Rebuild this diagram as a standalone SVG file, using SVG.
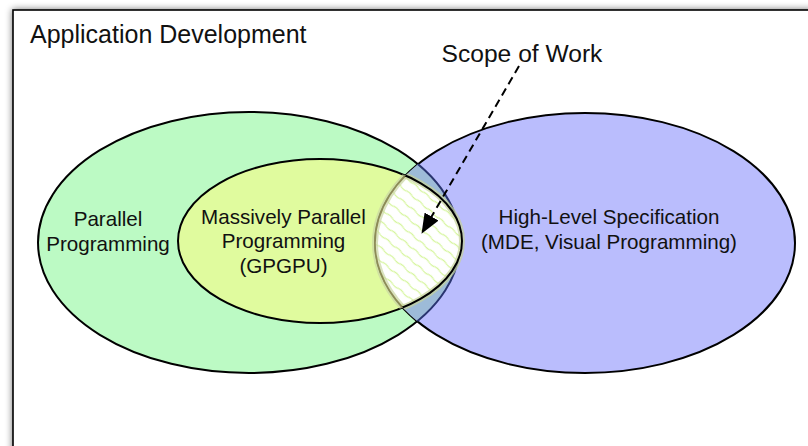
<svg xmlns="http://www.w3.org/2000/svg" width="808" height="446" viewBox="0 0 808 446">
<defs>
<style>
text{font-family:"Liberation Sans",Arial,sans-serif;fill:#111}
.lbl{font-size:20.6px;text-anchor:middle}
.outline{fill:none;stroke:#000;stroke-width:2}
</style>
<filter id="shadow" x="-10%" y="-10%" width="120%" height="120%">
<feGaussianBlur in="SourceAlpha" stdDeviation="3.5"/>
<feComponentTransfer><feFuncA type="linear" slope="0.55"/></feComponentTransfer>
<feMerge><feMergeNode/><feMergeNode in="SourceGraphic"/></feMerge>
</filter>
<clipPath id="clipBlue"><ellipse cx="585" cy="243" rx="210" ry="130"/></clipPath>
<clipPath id="clipInner"><ellipse cx="320" cy="241" rx="142" ry="82"/></clipPath>
<pattern id="hatch" width="14" height="10" patternUnits="userSpaceOnUse" patternTransform="rotate(40)">
<path d="M0 5 q3.5 -1.2 7 0 t7 0" fill="none" stroke="#d5f59c" stroke-width="1.2"/>
</pattern>
<marker id="arrow" viewBox="0 0 20 16" refX="19" refY="8" markerWidth="20" markerHeight="16" markerUnits="userSpaceOnUse" orient="auto">
<path d="M0 0 L20 8 L0 16 Z" fill="#000"/>
</marker>
</defs>

<g id="frame">
<rect x="13" y="10" width="830" height="470" fill="#fff" stroke="#000" stroke-width="1.6" filter="url(#shadow)"/>
<text x="30" y="43" style="font-size:25px">Application Development</text>
</g>

<g id="node-parallel">
<ellipse cx="249" cy="242.5" rx="211" ry="130.5" fill="#bcfac4" stroke="#000" stroke-width="2"/>
<text class="lbl" x="108" y="226">Parallel</text>
<text class="lbl" x="108" y="251">Programming</text>
</g>

<g id="node-massive">
<ellipse cx="320" cy="241" rx="142" ry="82" fill="#e0fb9e" stroke="#000" stroke-width="2"/>
<text class="lbl" x="283.5" y="223.5">Massively Parallel</text>
<text class="lbl" x="283.5" y="248">Programming</text>
<text class="lbl" x="283.5" y="272.5">(GPGPU)</text>
</g>

<g id="node-highlevel">
<ellipse cx="585" cy="243" rx="210" ry="130" fill="#babdfd" stroke="#000" stroke-width="2"/>
<g clip-path="url(#clipBlue)">
<ellipse cx="249" cy="242.5" rx="211" ry="130.5" fill="#9dbbd8" stroke="#2a3570" stroke-width="2"/>
</g>
<text class="lbl" x="609" y="224">High-Level Specification</text>
<text class="lbl" x="609" y="248.5">(MDE, Visual Programming)</text>
</g>

<g id="scope">
<g clip-path="url(#clipBlue)">
<ellipse cx="320" cy="241" rx="142" ry="82" fill="#fff"/>
<ellipse cx="320" cy="241" rx="142" ry="82" fill="url(#hatch)"/>
<ellipse cx="320" cy="241" rx="142" ry="82" fill="none" stroke="#c4d29a" stroke-opacity="0.7" stroke-width="6"/>
</g>
<g clip-path="url(#clipInner)">
<ellipse cx="585" cy="243" rx="210" ry="130" fill="none" stroke="#cbd6a2" stroke-width="6" stroke-opacity="0.7"/>
<ellipse cx="585" cy="243" rx="210" ry="130" fill="none" stroke="#8d8b55" stroke-width="1.6"/>
</g>
<g clip-path="url(#clipBlue)">
<ellipse cx="320" cy="241" rx="142" ry="82" class="outline"/>
</g>
<text x="522" y="62" style="font-size:24.6px;text-anchor:middle">Scope of Work</text>
</g>

<g id="connectors">
<line x1="519" y1="66" x2="422" y2="233" stroke="#000" stroke-width="2" stroke-dasharray="8 5" marker-end="url(#arrow)"/>
</g>
</svg>
